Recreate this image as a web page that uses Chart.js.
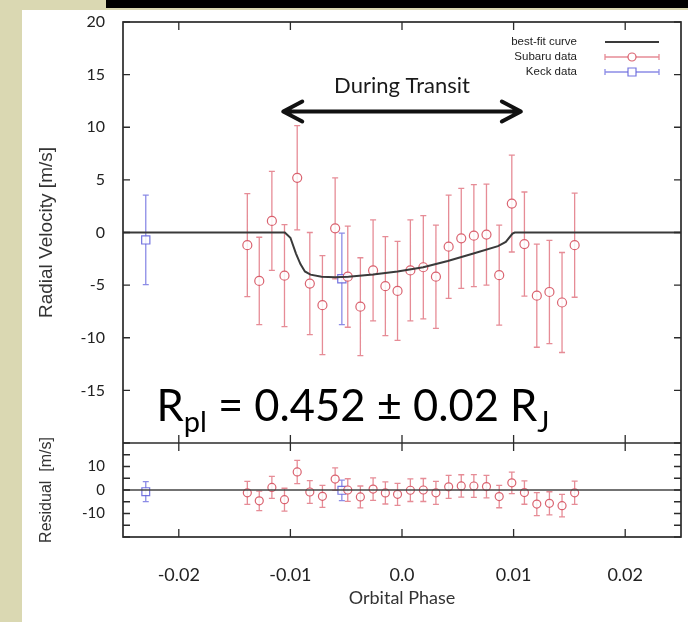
<!DOCTYPE html>
<html>
<head>
<meta charset="utf-8">
<script src="https://cdn.jsdelivr.net/npm/chart.js@4.4.1/dist/chart.umd.min.js"></script>
<style>
    html, body { margin: 0; padding: 0; }
    body { width: 688px; height: 622px; background: #dad8b2; position: relative; overflow: hidden; }
    #topbar { position: absolute; left: 106px; top: 0; width: 582px; height: 8px; background: #000; }
    #wrap { position: absolute; left: 22px; top: 10px; width: 666px; height: 612px; background: #fff; }
</style>
</head>
<body>
<div id="topbar"></div>
<div id="wrap"><canvas id="rvChart" width="666" height="612"></canvas></div>
<script>
// --- Datos ---
const subaruPhase = [-0.01386, -0.01279, -0.01166, -0.01053, -0.00939, -0.00826, -0.00713, -0.00599, -0.00486,
    -0.00373, -0.00259, -0.00149, -0.00040, 0.00075, 0.00191, 0.00304, 0.00418, 0.00531, 0.00644, 0.00757,
    0.00871, 0.00984, 0.01097, 0.01208, 0.01321, 0.01434, 0.01547];
const subaruRV = [-1.2, -4.6, 1.1, -4.1, 5.2, -4.85, -6.9, 0.4, -4.2, -7.05, -3.6, -5.1, -5.55, -3.6, -3.3,
    -4.2, -1.35, -0.55, -0.3, -0.2, -4.05, 2.75, -1.1, -6.0, -5.65, -6.65, -1.2];
const subaruErr = [4.9, 4.15, 4.7, 4.85, 4.95, 4.85, 4.7, 4.8, 4.8, 4.65, 4.8, 4.7, 4.7, 4.8, 4.9, 4.9, 4.9,
    4.75, 4.85, 4.8, 4.75, 4.6, 4.95, 4.9, 4.9, 4.75, 4.95];
const subaruResid = [-1.2, -4.6, 1.1, -4.1, 7.7, -0.85, -2.7, 4.65, 0.0, -2.95, 0.4, -1.25, -1.85, -0.1, 0.0,
    -1.2, 1.35, 1.75, 1.7, 1.45, -2.8, 3.05, -1.1, -6.0, -5.65, -6.65, -1.2];

const keckPhase = [-0.02296, -0.00539];
const keckRV = [-0.7, -4.4];
const keckErr = [4.25, 4.35];
const keckResid = [-0.7, -0.15];

const fitPhase = [-0.025, -0.0105, -0.0100, -0.0095, -0.0091, -0.0087, -0.0082, -0.0072, -0.0060, -0.0048,
    -0.0026, -0.0004, 0.0019, 0.0041, 0.0064, 0.0086, 0.0093, 0.0099, 0.0101, 0.025];
const fitRV = [0, 0, -0.5, -2.0, -3.0, -3.7, -4.0, -4.2, -4.25, -4.2, -4.0, -3.7, -3.3, -2.7, -2.0, -1.3,
    -0.9, -0.1, 0, 0];

const residZeroPhase = [-0.025, 0.025];
const residZero = [0, 0];

const xTickValues = [-0.02, -0.01, 0, 0.01, 0.02];
const xTickLabels = ['-0.02', '-0.01', '0.0', '0.01', '0.02'];
const rvTickValues = [-20, -15, -10, -5, 0, 5, 10, 15, 20];
const rvTickLabels = ['', '-15', '-10', '-5', '0', '5', '10', '15', '20'];
const resTickValues = [-20, -15, -10, -5, 0, 5, 10, 15, 20];
const resTickLabels = ['', '', '-10', '', '0', '', '10', '', ''];

// colores
const RED = 'rgba(214, 82, 96, 0.9)';
const RED_BAR = 'rgba(226, 120, 132, 0.85)';
const BLUE = 'rgba(100, 100, 220, 0.9)';
const BLUE_BAR = 'rgba(120, 120, 226, 0.85)';

function toXY(xs, ys) {
    return xs.map((p, i) => ({ x: p, y: ys[i] }));
}

// Quitar el relleno automatico que Chart.js reserva para las etiquetas extremas
function fixedWidth(w) {
    return s => { s.width = w; s.paddingTop = 0; s.paddingBottom = 0; };
}

// Barras de error (dibujadas bajo los marcadores)
const errorBarsPlugin = {
    id: 'errorBars',
    beforeDatasetsDraw(chart) {
        const c = chart.ctx;
        chart.data.datasets.forEach((ds, di) => {
            if (!ds.errors) return;
            const meta = chart.getDatasetMeta(di);
            const ys = chart.scales[ds.yAxisID];
            const cap = 3;
            c.save();
            c.strokeStyle = ds.barColor;
            c.lineWidth = 1.3;
            c.beginPath();
            meta.data.forEach((pt, i) => {
                const v = ds.data[i].y, e = ds.errors[i];
                const y1 = ys.getPixelForValue(v + e);
                const y2 = ys.getPixelForValue(v - e);
                c.moveTo(pt.x, y1); c.lineTo(pt.x, y2);
                c.moveTo(pt.x - cap, y1); c.lineTo(pt.x + cap, y1);
                c.moveTo(pt.x - cap, y2); c.lineTo(pt.x + cap, y2);
            });
            c.stroke();
            c.restore();
        });
    }
};

// Marco estilo gnuplot con marcas hacia dentro
const framePlugin = {
    id: 'frame',
    afterDatasetsDraw(chart) {
        const { ctx: c, chartArea: a, scales } = chart;
        const x = scales.x, y = scales.y, yr = scales.yr;
        const div = y.bottom;
        c.save();
        c.strokeStyle = '#2b2b2b';
        c.lineWidth = 1.7;
        c.strokeRect(a.left, a.top, a.right - a.left, a.bottom - a.top);
        c.beginPath();
        c.moveTo(a.left, div); c.lineTo(a.right, div);
        c.stroke();
        c.lineWidth = 1.3;
        c.beginPath();
        x.ticks.forEach(t => {
            const px = x.getPixelForValue(t.value);
            c.moveTo(px, a.top); c.lineTo(px, a.top + 8);
            c.moveTo(px, div - 8); c.lineTo(px, div + 8);
            c.moveTo(px, a.bottom); c.lineTo(px, a.bottom - 8);
        });
        [y, yr].forEach(s => s.ticks.forEach(t => {
            const py = s.getPixelForValue(t.value);
            c.moveTo(a.left, py); c.lineTo(a.left + 7, py);
            c.moveTo(a.right, py); c.lineTo(a.right - 7, py);
        }));
        c.stroke();
        c.restore();
    }
};

// Leyenda, flecha de transito y texto del radio
const notesPlugin = {
    id: 'notes',
    afterDraw(chart) {
        const { ctx: c, chartArea: a, scales } = chart;
        const x = scales.x, y = scales.y;
        c.save();

        // leyenda
        const rows = [
            { text: 'best-fit curve', kind: 'line' },
            { text: 'Subaru data', kind: 'circle', color: RED, bar: RED_BAR },
            { text: 'Keck data', kind: 'rect', color: BLUE, bar: BLUE_BAR }
        ];
        c.font = '11.5px "Liberation Sans", Arial, sans-serif';
        c.textAlign = 'right';
        c.textBaseline = 'middle';
        rows.forEach((r, i) => {
            const ry = a.top + 20 + i * 15;
            const x0 = a.right - 76, x1 = a.right - 22, xm = (x0 + x1) / 2;
            c.fillStyle = '#222';
            c.fillText(r.text, a.right - 104, ry);
            if (r.kind === 'line') {
                c.strokeStyle = '#3a3a3a'; c.lineWidth = 2;
                c.beginPath(); c.moveTo(x0, ry); c.lineTo(x1, ry); c.stroke();
            } else {
                c.strokeStyle = r.bar; c.lineWidth = 1.3;
                c.beginPath();
                c.moveTo(x0, ry); c.lineTo(x1, ry);
                c.moveTo(x0, ry - 3); c.lineTo(x0, ry + 3);
                c.moveTo(x1, ry - 3); c.lineTo(x1, ry + 3);
                c.stroke();
                c.fillStyle = '#fff';
                c.strokeStyle = r.color; c.lineWidth = 1.2;
                c.beginPath();
                if (r.kind === 'circle') c.arc(xm, ry, 4, 0, Math.PI * 2);
                else c.rect(xm - 4, ry - 4, 8, 8);
                c.fill(); c.stroke();
            }
        });

        // flecha "During Transit"
        const ay = y.getPixelForValue(11.5);
        const ax0 = x.getPixelForValue(-0.01064), ax1 = x.getPixelForValue(0.01065);
        c.strokeStyle = '#111';
        c.lineWidth = 4;
        c.lineCap = 'round';
        c.lineJoin = 'round';
        c.beginPath();
        c.moveTo(ax0 + 2, ay); c.lineTo(ax1 - 2, ay);
        c.moveTo(ax0 + 19, ay - 10); c.lineTo(ax0, ay); c.lineTo(ax0 + 19, ay + 10);
        c.moveTo(ax1 - 19, ay - 10); c.lineTo(ax1, ay); c.lineTo(ax1 - 19, ay + 10);
        c.stroke();
        c.fillStyle = '#1a1a1a';
        c.textAlign = 'center';
        c.textBaseline = 'middle';
        c.font = '22px Lato, sans-serif';
        c.fillText('During Transit', x.getPixelForValue(0), y.getPixelForValue(13.9));

        // R_pl = 0.452 ± 0.02 R_J
        const parts = [
            { t: 'R', size: 43.5, dy: 0 },
            { t: 'pl', size: 29, dy: 11 },
            { t: ' = 0.452 \u00b1 0.02 R', size: 43.5, dy: 0 },
            { t: 'J', size: 29, dy: 11 }
        ];
        let tx = x.getPixelForValue(-0.0220);
        const base = y.getPixelForValue(-17.9);
        c.textAlign = 'left';
        c.textBaseline = 'alphabetic';
        c.fillStyle = '#000';
        parts.forEach(p => {
            c.font = p.size + 'px Lato, sans-serif';
            c.fillText(p.t, tx, base + p.dy);
            tx += c.measureText(p.t).width;
        });
        c.restore();
    }
};

const ctx = document.getElementById('rvChart');
new Chart(ctx, {
    type: 'scatter',
    data: {
        datasets: [
            {
                label: 'best-fit curve',
                type: 'line',
                data: toXY(fitPhase, fitRV),
                yAxisID: 'y',
                showLine: true,
                borderColor: '#3a3a3a',
                borderWidth: 2,
                pointRadius: 0,
                fill: false
            },
            {
                label: 'Subaru data',
                data: toXY(subaruPhase, subaruRV),
                yAxisID: 'y',
                errors: subaruErr,
                barColor: RED_BAR,
                pointStyle: 'circle',
                pointRadius: 4.5,
                borderColor: RED,
                backgroundColor: 'rgba(255,255,255,0.85)',
                borderWidth: 1.2
            },
            {
                label: 'Keck data',
                data: toXY(keckPhase, keckRV),
                yAxisID: 'y',
                errors: keckErr,
                barColor: BLUE_BAR,
                pointStyle: 'rect',
                pointRadius: 5.8,
                borderColor: BLUE,
                backgroundColor: 'rgba(255,255,255,0.85)',
                borderWidth: 1.2
            },
            {
                label: 'zero',
                type: 'line',
                data: toXY(residZeroPhase, residZero),
                yAxisID: 'yr',
                showLine: true,
                borderColor: '#444',
                borderWidth: 1.6,
                pointRadius: 0,
                fill: false
            },
            {
                label: 'Subaru residual',
                data: toXY(subaruPhase, subaruResid),
                yAxisID: 'yr',
                errors: subaruErr,
                barColor: RED_BAR,
                pointStyle: 'circle',
                pointRadius: 4,
                borderColor: RED,
                backgroundColor: 'rgba(255,255,255,0.85)',
                borderWidth: 1.2
            },
            {
                label: 'Keck residual',
                data: toXY(keckPhase, keckResid),
                yAxisID: 'yr',
                errors: keckErr,
                barColor: BLUE_BAR,
                pointStyle: 'rect',
                pointRadius: 5.5,
                borderColor: BLUE,
                backgroundColor: 'rgba(255,255,255,0.85)',
                borderWidth: 1.2
            }
        ]
    },
    options: {
        responsive: false,
        animation: false,
        layout: { padding: { top: 12, right: 6, left: 0, bottom: 0 } },
        plugins: {
            legend: { display: false },
            tooltip: { enabled: false }
        },
        scales: {
            x: {
                type: 'linear',
                position: 'bottom',
                min: -0.025,
                max: 0.025,
                afterBuildTicks: s => { s.ticks = xTickValues.map(v => ({ value: v })); },
                afterFit: s => { s.height = 85; s.paddingLeft = 0; s.paddingRight = 0; },
                grid: { display: false },
                border: { display: false },
                ticks: {
                    callback: (v, i) => xTickLabels[i],
                    font: { family: 'Lato', size: 18 },
                    color: '#222',
                    padding: 19,
                    maxRotation: 0,
                    autoSkip: false
                },
                title: {
                    display: true,
                    text: 'Orbital Phase',
                    font: { family: 'Lato', size: 18 },
                    color: '#333',
                    padding: { top: 0, bottom: 13 }
                }
            },
            y: {
                type: 'linear',
                position: 'left',
                stack: 'rv',
                stackWeight: 4.48,
                weight: 1,
                min: -20,
                max: 20,
                afterBuildTicks: s => { s.ticks = rvTickValues.map(v => ({ value: v })); },
                afterFit: fixedWidth(101),
                grid: { display: false },
                border: { display: false },
                ticks: {
                    callback: (v, i) => rvTickLabels[i],
                    font: { family: 'Lato', size: 16 },
                    color: '#222',
                    padding: 10,
                    autoSkip: false
                },
                title: {
                    display: true,
                    text: 'Radial Velocity [m/s]',
                    font: { family: 'Liberation Sans', size: 19 },
                    color: '#333',
                    padding: { top: 13, bottom: 0 }
                }
            },
            yr: {
                type: 'linear',
                position: 'left',
                stack: 'rv',
                stackWeight: 1,
                weight: 0,
                min: -20,
                max: 20,
                afterBuildTicks: s => { s.ticks = resTickValues.map(v => ({ value: v })); },
                afterFit: fixedWidth(101),
                grid: { display: false },
                border: { display: false },
                ticks: {
                    callback: (v, i) => resTickLabels[i],
                    font: { family: 'Lato', size: 15 },
                    color: '#222',
                    padding: 10,
                    autoSkip: false
                },
                title: {
                    display: true,
                    text: 'Residual  [m/s]',
                    font: { family: 'Liberation Sans', size: 16 },
                    color: '#333',
                    padding: { top: 15, bottom: 0 }
                }
            }
        }
    },
    plugins: [errorBarsPlugin, framePlugin, notesPlugin]
});
</script>
</body>
</html>
